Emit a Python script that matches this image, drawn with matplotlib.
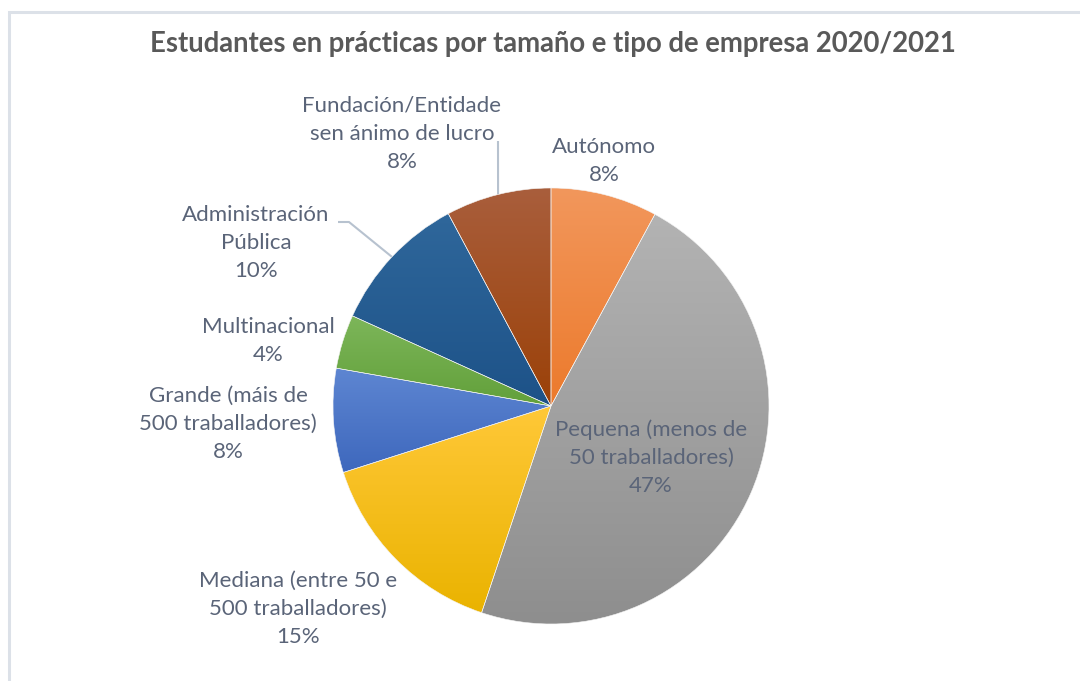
import numpy as np
import matplotlib
matplotlib.use("Agg")
import matplotlib.pyplot as plt
from matplotlib.colors import to_rgb
from matplotlib.patches import Rectangle

# ---- data ----
categories = [
    "Autónomo",
    "Pequena (menos de\n50 traballadores)",
    "Mediana (entre 50 e\n500 traballadores)",
    "Grande (máis de\n500 traballadores)",
    "Multinacional",
    "Administración\nPública",
    "Fundación/Entidade\nsen ánimo de lucro",
]
values = [7.9, 47.2, 14.9, 7.7, 4.0, 10.4, 7.8]
top_colors = ["#F2975C", "#B3B3B3", "#FFC838", "#5E86D2", "#7DB65A", "#2F679B", "#A95E3C"]
bottom_colors = ["#EC7A2C", "#8E8E8E", "#EAB300", "#3E68BD", "#62A03A", "#1D5288", "#9B4108"]
title = "Estudantes en prácticas por tamaño e tipo de empresa 2020/2021"

# ---- layout (pixel coordinates, y measured from top) ----
W, H = 1080, 681
center_px = (551, 406)
radius_px = 218
# label anchor (center x, center y of text block)
label_pos = [(604, 161), (651, 458), (298, 609), (228, 424), (268, 341), (256, 243), (402, 134)]
leaders = {6: [(498, 141)], 5: [(338, 222), (349, 222)]}

plt.rcParams['font.family'] = ['Lato', 'DejaVu Sans']
fig = plt.figure(figsize=(W / 100, H / 100), dpi=100)
ax = fig.add_axes([0, 0, 1, 1])
ax.set_xlim(0, W)
ax.set_ylim(0, H)
ax.set_autoscale_on(False)
ax.axis('off')

def py(y):
    return H - y

# border
ax.add_patch(Rectangle((9, -10), W + 20, py(12) + 10, fill=False,
                       edgecolor="#DCE1E8", lw=2.2, zorder=0))

cx, cy = center_px[0], py(center_px[1])
wedges, _ = ax.pie(values, startangle=90, counterclock=False, radius=radius_px,
                   center=(cx, cy), colors=top_colors,
                   wedgeprops=dict(edgecolor="none", linewidth=0))
ax.set_xlim(0, W)
ax.set_ylim(0, H)

for i, w in enumerate(wedges):
    ext = w.get_path().get_extents()
    t = np.linspace(0, 1, 256)[:, None]
    c0 = np.array(to_rgb(top_colors[i]))
    c1 = np.array(to_rgb(bottom_colors[i]))
    grad = (c0[None, :] * (1 - t) + c1[None, :] * t)[:, None, :]
    grad = np.repeat(grad, 2, axis=1)
    im = ax.imshow(grad, extent=(ext.x0, ext.x1, ext.y0, ext.y1), origin='upper',
                   interpolation='bilinear', aspect='auto', zorder=2)
    im.set_clip_path(w)
    w.set_facecolor('none')
    w.set_edgecolor('#F4F4F4')
    w.set_linewidth(0.4)
    w.set_zorder(3)

ax.set_xlim(0, W)
ax.set_ylim(0, H)

label_color = "#5A6478"
total = sum(values)
for i, (cat, v) in enumerate(zip(categories, values)):
    pct = int(round(100 * v / total))
    x, y = label_pos[i]
    ax.text(x, py(y), f"{cat}\n{pct}%", ha='center', va='center', fontsize=16,
            color=label_color, linespacing=1.5, zorder=5)

# leader lines to wedge mid-angles
for i, pts in leaders.items():
    w = wedges[i]
    mid = np.deg2rad((w.theta1 + w.theta2) / 2)
    ex, ey = cx + radius_px * np.cos(mid), cy + radius_px * np.sin(mid)
    xs = [p[0] for p in pts] + [ex]
    ys = [py(p[1]) for p in pts] + [ey]
    ax.plot(xs, ys, color="#B7C2CF", lw=1.5, zorder=1, solid_capstyle='butt')

ax.text(553, py(44), title, ha='center', va='center', fontsize=19.8,
        fontweight='bold', color="#595959")

fig.savefig("out.png", dpi=100)
